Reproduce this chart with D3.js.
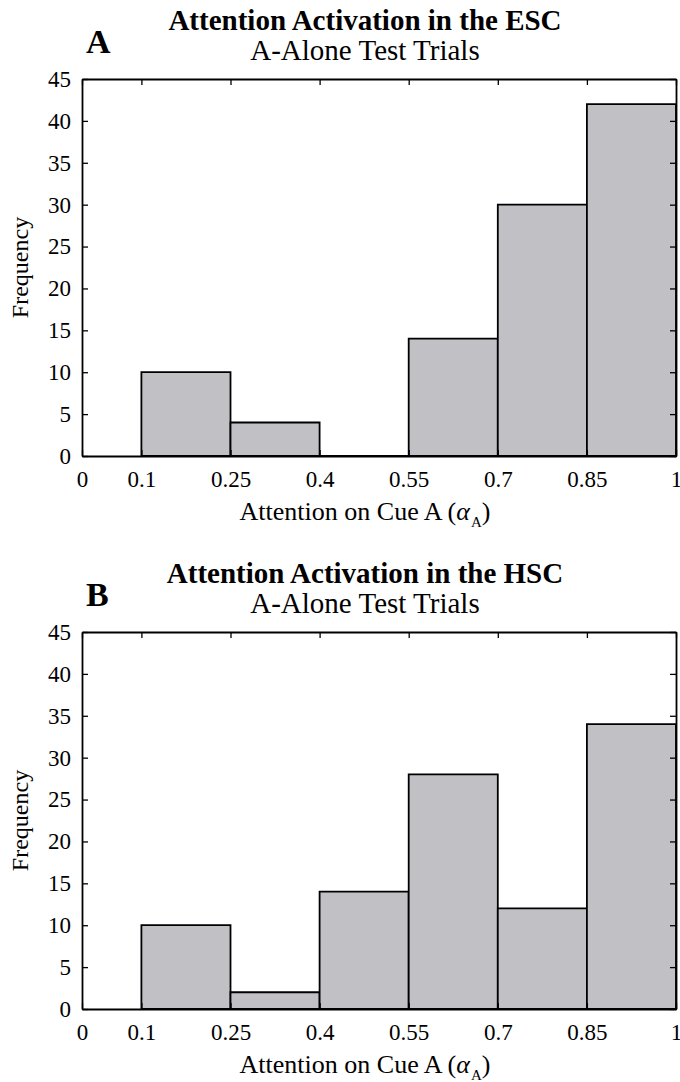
<!DOCTYPE html>
<html>
<head>
<meta charset="utf-8">
<script src="https://cdn.jsdelivr.net/npm/d3@7"></script>
<style>
  html, body { margin: 0; padding: 0; background: #fff; }
  text { font-family: "Liberation Serif", "Times New Roman", serif; fill: #000; }
</style>
</head>
<body>
<svg id="chart" width="680" height="1082"></svg>
<script>
// ---- data ----
const binEdges = [0.1, 0.25, 0.4, 0.55, 0.7, 0.85, 1];
const escCounts = [10, 4, 0, 14, 30, 42];
const hscCounts = [10, 2, 14, 28, 12, 34];
const xTicks = [0, 0.1, 0.25, 0.4, 0.55, 0.7, 0.85, 1];
const xTickLabels = ["0", "0.1", "0.25", "0.4", "0.55", "0.7", "0.85", "1"];
const yTicks = [0, 5, 10, 15, 20, 25, 30, 35, 40, 45];
const panelLetters = ["A", "B"];
const panelTitles = ["Attention Activation in the ESC", "Attention Activation in the HSC"];
const panelSubtitle = "A-Alone Test Trials";
const yLabel = "Frequency";

// ---- layout ----
const svg = d3.select("#chart");
const plotLeft = 82, plotRight = 676, plotH = 377;
const panelTops = [79, 632];
const titleX = 365;
const lw = 1.8;
const barFill = "#c1c0c5";

const x = d3.scaleLinear().domain([0, 1]).range([plotLeft, plotRight]);

function drawPanel(idx, counts) {
  const top = panelTops[idx];
  const y = d3.scaleLinear().domain([0, 45]).range([top + plotH, top]);
  const g = svg.append("g");

  // bars
  const bins = counts.map((c, i) => ({ x0: binEdges[i], x1: binEdges[i + 1], c }));
  g.selectAll("path.bar").data(bins).enter().append("path")
    .attr("class", "bar")
    .attr("d", d => {
      const p = d3.path();
      p.moveTo(x(d.x0), y(0));
      p.lineTo(x(d.x0), y(d.c));
      p.lineTo(x(d.x1), y(d.c));
      p.lineTo(x(d.x1), y(0));
      p.closePath();
      return p.toString();
    })
    .attr("fill", barFill)
    .attr("stroke", "#000")
    .attr("stroke-width", lw)
    .attr("stroke-linejoin", "miter");

  // axes
  const tickLen = 6;
  const xb = d3.axisBottom(x).tickValues(xTicks).tickFormat((d, i) => xTickLabels[i])
    .tickSizeInner(-tickLen).tickSizeOuter(0).tickPadding(15);
  const xt = d3.axisTop(x).tickValues(xTicks).tickFormat("")
    .tickSizeInner(-tickLen).tickSizeOuter(0);
  const yl = d3.axisLeft(y).tickValues(yTicks).tickFormat(d3.format("d"))
    .tickSizeInner(-tickLen).tickSizeOuter(0).tickPadding(11);
  const yr = d3.axisRight(y).tickValues(yTicks).tickFormat("")
    .tickSizeInner(-tickLen).tickSizeOuter(0);

  const styleAxis = sel => {
    sel.selectAll("path.domain").attr("stroke", "#000").attr("stroke-width", lw);
    sel.selectAll(".tick line").attr("stroke", "#000").attr("stroke-width", 1.3);
    sel.selectAll(".tick text").attr("font-family", "Liberation Serif, Times New Roman, serif")
      .attr("font-size", 23).attr("fill", "#000");
  };

  g.append("g").attr("transform", `translate(0,${top + plotH})`).call(xb).call(styleAxis);
  g.append("g").attr("transform", `translate(0,${top})`).call(xt).call(styleAxis);
  g.append("g").attr("transform", `translate(${plotLeft},0)`).call(yl).call(styleAxis);
  g.append("g").attr("transform", `translate(${plotRight},0)`).call(yr).call(styleAxis);

  // titles
  g.append("text").attr("x", titleX).attr("y", top - 49)
    .attr("text-anchor", "middle").attr("font-size", 29).attr("font-weight", "bold")
    .text(panelTitles[idx]);
  g.append("text").attr("x", titleX).attr("y", top - 19)
    .attr("text-anchor", "middle").attr("font-size", 29)
    .text(panelSubtitle);
  g.append("text").attr("x", 86).attr("y", top - 26)
    .attr("font-size", 34).attr("font-weight", "bold")
    .text(panelLetters[idx]);

  // y label
  g.append("text")
    .attr("transform", `translate(28,${top + plotH / 2}) rotate(-90)`)
    .attr("text-anchor", "middle").attr("font-size", 24)
    .text(yLabel);

  // x label with alpha subscript
  const xl = g.append("text").attr("x", titleX).attr("y", top + plotH + 64)
    .attr("text-anchor", "middle").attr("font-size", 26);
  xl.append("tspan").text("Attention on Cue A (");
  xl.append("tspan").attr("font-style", "italic").text("\u03B1");
  xl.append("tspan").attr("font-size", 15).attr("dy", 7).attr("dx", 1).text("A");
  xl.append("tspan").attr("dy", -7).text(")");
}

drawPanel(0, escCounts);
drawPanel(1, hscCounts);
</script>
</body>
</html>
